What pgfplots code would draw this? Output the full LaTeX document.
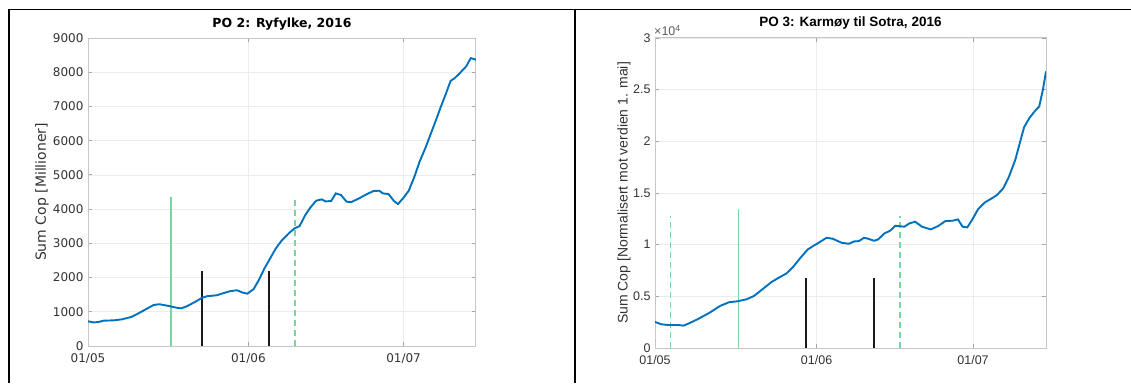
\documentclass[border=0pt]{standalone}
\usepackage{fontspec}
\setmainfont{DejaVu Sans}
\newfontfamily\rf{Liberation Sans}
\usepackage{pgfplots}
\usepackage{pgfplotstable}
\pgfplotsset{compat=1.18}
\definecolor{mblue}{rgb}{0,0.447,0.741}
\definecolor{mgreen}{rgb}{0.47,0.84,0.62}
\definecolor{mblack}{rgb}{0.1,0.1,0.1}
\definecolor{tickgray}{gray}{0.2}

\pgfplotstableread{
day val
0 722
1 690
2 700
3 740
5 750
6.6 780
8.4 850
9.9 966
11.3 1083
12.7 1200
13.8 1220
14.9 1190
15.9 1160
17 1122
18 1100
19.1 1160
20.6 1280
22 1405
23 1454
24.9 1483
25.9 1532
27.4 1600
28.8 1630
29.9 1560
30.8 1530
32 1660
33 1920
34.1 2265
35.2 2557
36.3 2850
37.4 3075
38.8 3290
39.9 3435
40.9 3504
42 3826
43 4050
44.1 4245
45.2 4285
45.9 4226
47 4236
47.9 4460
48.9 4411
50 4216
50.9 4206
52.4 4314
53.8 4430
55.2 4529
56.3 4538
57 4460
58.1 4440
59.1 4245
59.9 4148
60.9 4314
62 4538
63.1 4948
64.1 5388
65.2 5778
66.3 6217
67.4 6656
68.1 6949
69.1 7340
70.1 7750
70.9 7828
72 7994
73.1 8170
74 8413
75 8364
}\poTwo

\pgfplotstableread{
day val
0 2522
1.2 2295
2.5 2230
4.3 2230
5.5 2166
6.7 2425
8.4 2845
10.4 3395
12.5 4074
14.2 4429
15.9 4526
17.6 4720
19 5043
20.7 5722
22.4 6401
23.8 6822
25.2 7210
26.5 7856
27.9 8729
29.3 9537
30.3 9861
31.7 10281
32.9 10669
34.1 10572
35.8 10184
37.2 10087
38.2 10313
39.1 10345
40.1 10669
40.9 10572
42 10378
42.8 10507
44 11089
45.1 11348
46.1 11833
47.8 11736
48.8 12059
49.9 12221
51.2 11736
52.9 11477
54.3 11800
55.7 12286
57.1 12318
58.1 12447
59 11736
59.9 11671
60.8 12383
62 13450
63.2 14063
64.6 14484
65.6 14807
66.8 15454
67.9 16586
69.1 18202
70 19883
70.8 21370
71.8 22243
72.9 22955
73.7 23375
74.4 24992
75 26770
}\poThree

\pgfplotsset{mstyle/.style={
  scale only axis, xmin=0, xmax=75, ymin=0,
  xtick={0,31,61}, xticklabels={01/05,01/06,01/07},
  grid=major, grid style={gray!15, line width=0.7pt},
  axis line style={gray!45, line width=1pt},
  tick style={gray!70, line width=0.8pt},
  tick align=inside, major tick length=4pt,
  ticklabel style={text=tickgray},
  /pgf/number format/assume math mode=true,
  /pgf/number format/1000 sep={},
  xticklabel style={yshift=-4pt},
  yticklabel style={xshift=-1pt},
}}

\begin{document}
\begin{tikzpicture}[x=1pt,y=1pt]
\useasboundingbox (0,0) rectangle (1131,383);
% table borders
\draw[line width=0.9pt] (22,373.5) -- (524,373.5);
\draw[line width=0.9pt] (590,373.5) -- (1094,373.5);
\draw[line width=1.8pt] (8,373.5) -- (22,373.5);
\draw[line width=1.8pt] (524,373.5) -- (590,373.5);
\draw[line width=1.8pt] (1094,373.5) -- (1131,373.5);
\draw[line width=1.8pt] (9,374.4) -- (9,0);
\draw[line width=1.8pt] (575,374.4) -- (575,0);

\begin{axis}[mstyle, at={(88pt,37pt)}, anchor=south west,
  width=388pt, height=308pt, ymax=9000,
  ytick={0,1000,...,9000},
  tick label style={font=\fontsize{12}{14}\selectfont},
  title={PO 2: Ryfylke, 2016},
  title style={font=\bfseries\fontsize{12.5}{14}\selectfont, at={(0.5,1)}, anchor=base, yshift=5pt},
  ylabel={Sum Cop [Millioner]},
  ylabel style={font=\fontsize{14}{16}\selectfont, text=tickgray, at={(axis description cs:-0.1186,0.5)}, anchor=center},
]
\addplot[mgreen, line width=1.6pt] coordinates {(16,0) (16,4350)};
\addplot[mblack, line width=1.6pt] coordinates {(22,0) (22,2200)};
\addplot[mblack, line width=1.6pt] coordinates {(35,0) (35,2200)};
\addplot[mgreen, line width=1.6pt, dash pattern=on 6pt off 4pt] coordinates {(40,0) (40,4350)};
\addplot[mblue, line width=1.9pt] table[x=day,y=val] {\poTwo};
\end{axis}

\begin{axis}[mstyle, at={(655pt,35pt)}, anchor=south west,
  width=391pt, height=310pt, ymax=30000,
  ytick={0,5000,...,30000},
  scaled y ticks=base 10:-4,
  ytick scale label code/.code={{\rf\fontsize{12.5}{14}\selectfont ×10\textsuperscript{4}}},
  every y tick scale label/.style={at={(axis description cs:0,1)}, anchor=south west, inner sep=0pt, yshift=2pt, text=tickgray!80},
  tick label style={font=\rf\fontsize{12.5}{14}\selectfont},
  title={PO 3: Karmøy til Sotra, 2016},
  title style={font=\rf\bfseries\fontsize{13.5}{15}\selectfont, at={(0.5,1)}, anchor=base, yshift=5pt},
  ylabel={Sum Cop [Normalisert mot verdien 1. mai]},
  ylabel style={font=\rf\fontsize{14}{16}\selectfont, text=tickgray, at={(axis description cs:-0.0793,0.5)}, anchor=center},
]
\addplot[mgreen, line width=1.6pt, dash pattern=on 6pt off 4pt] coordinates {(3,0) (3,12800)};
\addplot[mgreen, line width=1.6pt] coordinates {(16,0) (16,13450)};
\addplot[mblack, line width=1.6pt] coordinates {(29,0) (29,6770)};
\addplot[mblack, line width=1.6pt] coordinates {(42,0) (42,6770)};
\addplot[mgreen, line width=1.6pt, dash pattern=on 6pt off 4pt] coordinates {(47,0) (47,12800)};
\addplot[mblue, line width=1.9pt] table[x=day,y=val] {\poThree};
\end{axis}
\end{tikzpicture}
\end{document}
